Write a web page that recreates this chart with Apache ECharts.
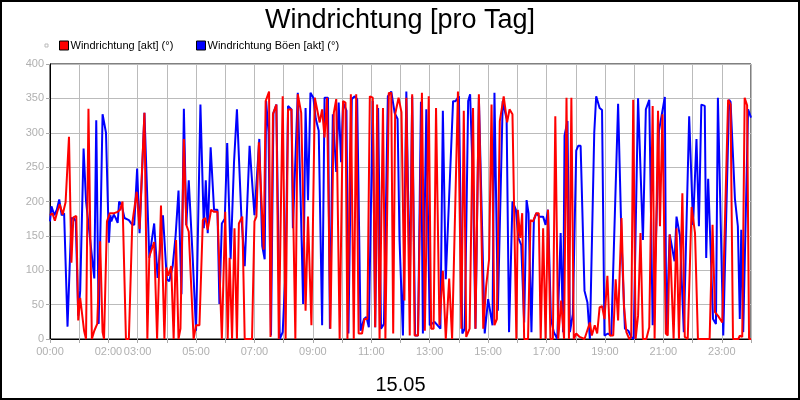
<!DOCTYPE html>
<html>
<head>
<meta charset="utf-8">
<script src="https://cdn.jsdelivr.net/npm/echarts@6/dist/echarts.min.js"></script>
<style>
html,body{margin:0;padding:0;background:#fff;}
#chart{width:800px;height:400px;}
</style>
</head>
<body>
<div id="chart"></div>
<script>
// x values are minutes after 00:00 on 15.05
var titleText = 'Windrichtung [pro Tag]';
var dateLabel = '15.05';
var redName = 'Windrichtung [akt] (°)';
var blueName = 'Windrichtung Böen [akt] (°)';
var hourLabels = ['00:00','','02:00','03:00','','05:00','','07:00','','09:00','','11:00','','13:00','','15:00','','17:00','','19:00','','21:00','','23:00',''];
var yTicks = [0,50,100,150,200,250,300,350,400];

var redData = [
[0,180],[5,183],[10,172],[15,185],[20,196],[26,181],[32,199],[39,294],[44,111],[48,177],[54,179],[58,27],[62,60],[66,58],[70,12],[74,0],[79,335],[86,0],[91,12],[97,22],[103,142],[108,10],[111,0],[117,171],[123,183],[132,183],[139,185],[144,188],[149,200],[156,0],[162,0],[169,168],[178,214],[184,160],[194,329],[200,0],[204,120],[214,141],[220,0],[228,194],[235,0],[239,104],[243,92],[249,106],[254,0],[259,144],[264,0],[268,15],[275,291],[280,166],[285,156],[295,0],[300,20],[307,20],[314,173],[319,176],[324,159],[331,188],[337,185],[344,185],[353,0],[360,185],[365,0],[369,118],[374,0],[379,161],[384,0],[388,168],[395,178],[400,0],[415,0],[420,171],[424,178],[429,286],[439,130],[443,346],[450,360],[453,3],[458,327],[465,341],[470,0],[478,353],[484,0],[489,334],[496,334],[504,0],[509,356],[516,329],[525,41],[530,178],[537,20],[544,351],[554,315],[559,334],[564,293],[569,351],[572,349],[576,15],[583,329],[588,349],[595,0],[602,346],[607,344],[611,0],[618,356],[624,0],[629,356],[634,8],[641,8],[646,29],[652,29],[657,353],[663,351],[668,17],[672,341],[677,0],[684,336],[689,0],[696,358],[701,358],[705,8],[709,327],[716,351],[722,330],[728,56],[732,351],[739,5],[744,356],[749,5],[756,5],[764,358],[770,12],[778,353],[783,15],[788,15],[793,336],[800,20],[807,99],[813,0],[820,88],[826,0],[838,360],[845,15],[850,332],[855,3],[862,15],[869,336],[874,15],[881,356],[885,358],[890,15],[896,77],[902,116],[907,341],[913,20],[918,29],[924,317],[932,353],[939,315],[944,334],[950,327],[958,0],[961,188],[966,147],[970,183],[974,0],[982,0],[987,173],[992,171],[999,183],[1004,183],[1008,0],[1013,161],[1018,0],[1023,188],[1028,0],[1033,0],[1038,324],[1044,0],[1050,56],[1056,0],[1061,351],[1066,0],[1071,351],[1076,0],[1081,8],[1088,3],[1098,0],[1109,24],[1113,5],[1119,20],[1124,8],[1129,46],[1134,48],[1139,29],[1145,92],[1150,5],[1157,5],[1162,87],[1167,27],[1174,176],[1179,48],[1184,10],[1190,0],[1194,3],[1198,348],[1203,0],[1208,34],[1213,154],[1218,0],[1225,0],[1231,17],[1238,339],[1242,0],[1249,332],[1253,164],[1258,327],[1265,8],[1269,5],[1273,152],[1277,152],[1281,0],[1287,161],[1292,0],[1299,212],[1304,3],[1310,0],[1318,192],[1325,154],[1331,0],[1355,0],[1361,166],[1366,39],[1372,34],[1381,24],[1393,348],[1398,341],[1403,0],[1414,0],[1417,5],[1422,3],[1427,351],[1432,340],[1436,0],[1440,0]
];

var blueData = [
[0,171],[3,193],[9,180],[14,188],[19,203],[24,180],[29,183],[36,18],[40,17],[44,176],[50,175],[53,171],[58,34],[62,70],[69,277],[74,201],[91,88],[95,318],[100,22],[103,22],[108,327],[115,300],[121,140],[124,180],[126,171],[131,181],[135,176],[139,169],[142,200],[147,195],[153,176],[157,178],[162,173],[168,167],[173,166],[179,248],[184,154],[194,329],[204,118],[214,168],[221,89],[232,180],[240,87],[245,84],[252,106],[258,150],[264,216],[270,65],[275,335],[280,166],[285,231],[293,120],[300,12],[309,341],[316,161],[320,231],[324,154],[330,279],[337,188],[344,188],[348,51],[353,168],[359,175],[364,285],[371,116],[378,257],[384,334],[393,180],[400,106],[410,281],[420,180],[430,291],[436,135],[441,116],[444,346],[449,300],[454,5],[459,329],[465,341],[472,0],[478,10],[484,101],[489,339],[496,334],[499,161],[509,358],[515,200],[520,51],[525,336],[530,202],[535,358],[541,351],[546,320],[552,303],[559,20],[564,351],[571,351],[575,15],[581,327],[588,243],[593,344],[598,257],[602,344],[609,332],[613,8],[620,349],[626,353],[631,349],[638,12],[645,29],[650,32],[655,17],[663,346],[668,17],[674,336],[680,15],[686,22],[694,353],[701,360],[708,329],[714,320],[718,144],[725,5],[732,360],[739,70],[744,353],[750,5],[756,5],[762,345],[766,8],[773,334],[780,20],[790,25],[802,15],[807,332],[813,87],[828,346],[833,346],[840,353],[847,8],[852,15],[859,346],[863,356],[869,224],[874,15],[881,351],[893,8],[900,58],[909,20],[913,358],[920,41],[930,346],[938,320],[943,10],[950,200],[957,188],[962,147],[968,137],[974,24],[979,202],[983,183],[989,10],[994,173],[999,183],[1005,178],[1013,178],[1018,166],[1023,188],[1029,29],[1035,10],[1042,0],[1049,154],[1054,10],[1057,296],[1063,317],[1068,10],[1074,36],[1081,274],[1085,281],[1090,281],[1098,70],[1104,53],[1109,0],[1118,300],[1122,353],[1129,336],[1134,333],[1139,5],[1146,8],[1153,5],[1157,3],[1167,342],[1174,144],[1181,15],[1188,12],[1194,3],[1199,0],[1208,350],[1218,144],[1224,334],[1231,348],[1238,20],[1245,150],[1251,303],[1263,352],[1266,8],[1273,152],[1283,113],[1287,178],[1294,150],[1302,10],[1313,324],[1321,166],[1328,291],[1333,164],[1338,341],[1345,339],[1348,118],[1352,233],[1355,231],[1362,29],[1368,22],[1372,351],[1383,5],[1395,348],[1398,345],[1407,204],[1413,164],[1417,29],[1420,159],[1424,10],[1434,334],[1440,322]
];

var chart = echarts.init(document.getElementById('chart'), null, {renderer:'canvas'});
var FONT = '"Liberation Sans", Arial, sans-serif';
chart.setOption({
  animation: false,
  backgroundColor: '#fff',
  title: {
    text: titleText, left: 'center', top: 2,
    textStyle: {fontFamily: FONT, fontSize: 27, fontWeight: 'normal', color: '#000'}
  },
  legend: [
    {data: [redName], left: 59, top: 40, padding: 0, itemWidth: 9, itemHeight: 9, icon: 'rect',
     itemStyle: {borderColor: '#000', borderWidth: 1},
     textStyle: {fontFamily: FONT, fontSize: 11, color: '#000', padding: [0,0,0,-3]}},
    {data: [blueName], left: 196, top: 40, padding: 0, itemWidth: 9, itemHeight: 9, icon: 'rect',
     itemStyle: {borderColor: '#000', borderWidth: 1},
     textStyle: {fontFamily: FONT, fontSize: 11, color: '#000', padding: [0,0,0,-3]}}
  ],
  graphic: [
    {type: 'rect', shape: {x: 1, y: 1, width: 798, height: 398}, style: {fill: 'none', stroke: '#000', lineWidth: 2}, silent: true},
    {type: 'rect', shape: {x: 45, y: 44, width: 3, height: 3}, style: {fill: 'none', stroke: '#bbb', lineWidth: 1}, silent: true}
  ],
  grid: {left: 50, right: 49, top: 64, bottom: 58, show: true, borderColor: '#000', borderWidth: 1, backgroundColor: 'transparent'},
  xAxis: {
    type: 'value', min: 0, max: 1440, interval: 60,
    name: dateLabel, nameLocation: 'middle', nameGap: 36,
    nameTextStyle: {fontFamily: FONT, fontSize: 20, color: '#000'},
    axisLine: {lineStyle: {color: '#000', width: 1}},
    axisTick: {show: true, length: 4, lineStyle: {color: '#aaa'}},
    axisLabel: {fontFamily: FONT, fontSize: 11, color: '#b0b0b0', margin: 7,
      formatter: function(v){ return hourLabels[Math.round(v/60)] || ''; }},
    splitLine: {show: true, lineStyle: {color: '#bbb', width: 1}}
  },
  yAxis: {
    type: 'value', min: yTicks[0], max: yTicks[yTicks.length-1], interval: 50,
    axisLine: {show: true, lineStyle: {color: '#000', width: 1}},
    axisTick: {show: true, length: 4, lineStyle: {color: '#aaa'}},
    axisLabel: {fontFamily: FONT, fontSize: 11, color: '#b0b0b0', margin: 6},
    splitLine: {show: true, lineStyle: {color: '#bbb', width: 1}}
  },
  series: [
    {name: blueName, type: 'line', data: blueData, showSymbol: false, symbol: 'none',
     lineStyle: {color: '#0000ff', width: 2}, itemStyle: {color: '#0000ff'}},
    {name: redName, type: 'line', data: redData, showSymbol: false, symbol: 'none',
     lineStyle: {color: '#ff0000', width: 2}, itemStyle: {color: '#ff0000'}}
  ]
});
</script>
</body>
</html>
